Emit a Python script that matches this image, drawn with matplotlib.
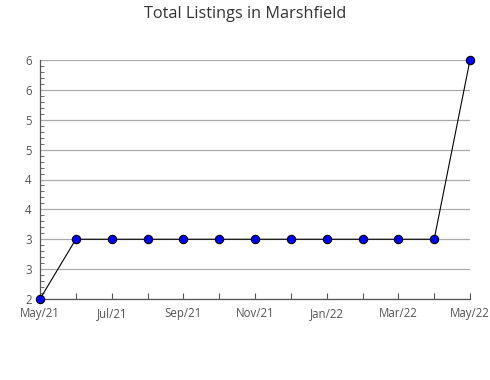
import numpy as np
import matplotlib.pyplot as plt
from matplotlib.ticker import FuncFormatter, MultipleLocator

months = ["May/21", "Jun/21", "Jul/21", "Aug/21", "Sep/21", "Oct/21", "Nov/21",
          "Dec/21", "Jan/22", "Feb/22", "Mar/22", "Apr/22", "May/22"]
listings = [2, 3, 3, 3, 3, 3, 3, 3, 3, 3, 3, 3, 6]

plt.rcParams['font.family'] = ['Open Sans', 'DejaVu Sans']

fig = plt.figure(figsize=(4.9, 3.8), dpi=100)
ax = fig.add_axes([40 / 490, 1 - 299 / 380, 430 / 490, 239 / 380])

x = np.arange(len(months))
ax.plot(x, listings, color='black', linewidth=0.8, marker='o', markersize=6,
        markerfacecolor='#0000ff', markeredgecolor='black', markeredgewidth=0.8,
        clip_on=False, zorder=3)

ax.set_xlim(0, len(months) - 1)
ax.set_ylim(2, 6)
ax.set_xticks(x)
ax.set_xticklabels([m if i % 2 == 0 else "" for i, m in enumerate(months)])

ax.yaxis.set_major_locator(MultipleLocator(0.5))
ax.yaxis.set_minor_locator(MultipleLocator(0.1))
ax.yaxis.set_major_formatter(FuncFormatter(lambda v, p: str(int(np.floor(v + 0.5)))))
ax.grid(axis='y', color='#aaaaaa', linewidth=0.9)

for s in ['top', 'right']:
    ax.spines[s].set_visible(False)
for s in ['left', 'bottom']:
    ax.spines[s].set_color('#555555')
    ax.spines[s].set_linewidth(0.9)

ax.tick_params(axis='x', direction='in', length=4, color='#555555',
               labelcolor='#555555', labelsize=8.3, pad=6)
ax.tick_params(axis='y', which='major', direction='in', length=0,
               labelcolor='#555555', labelsize=8.3, pad=6)
ax.tick_params(axis='y', which='minor', direction='in', length=3, color='#555555')

fig.suptitle("Total Listings in Marshfield", y=0.985, va='top', fontsize=11.7,
             color='#333333')

fig.savefig("out.png", dpi=100)
